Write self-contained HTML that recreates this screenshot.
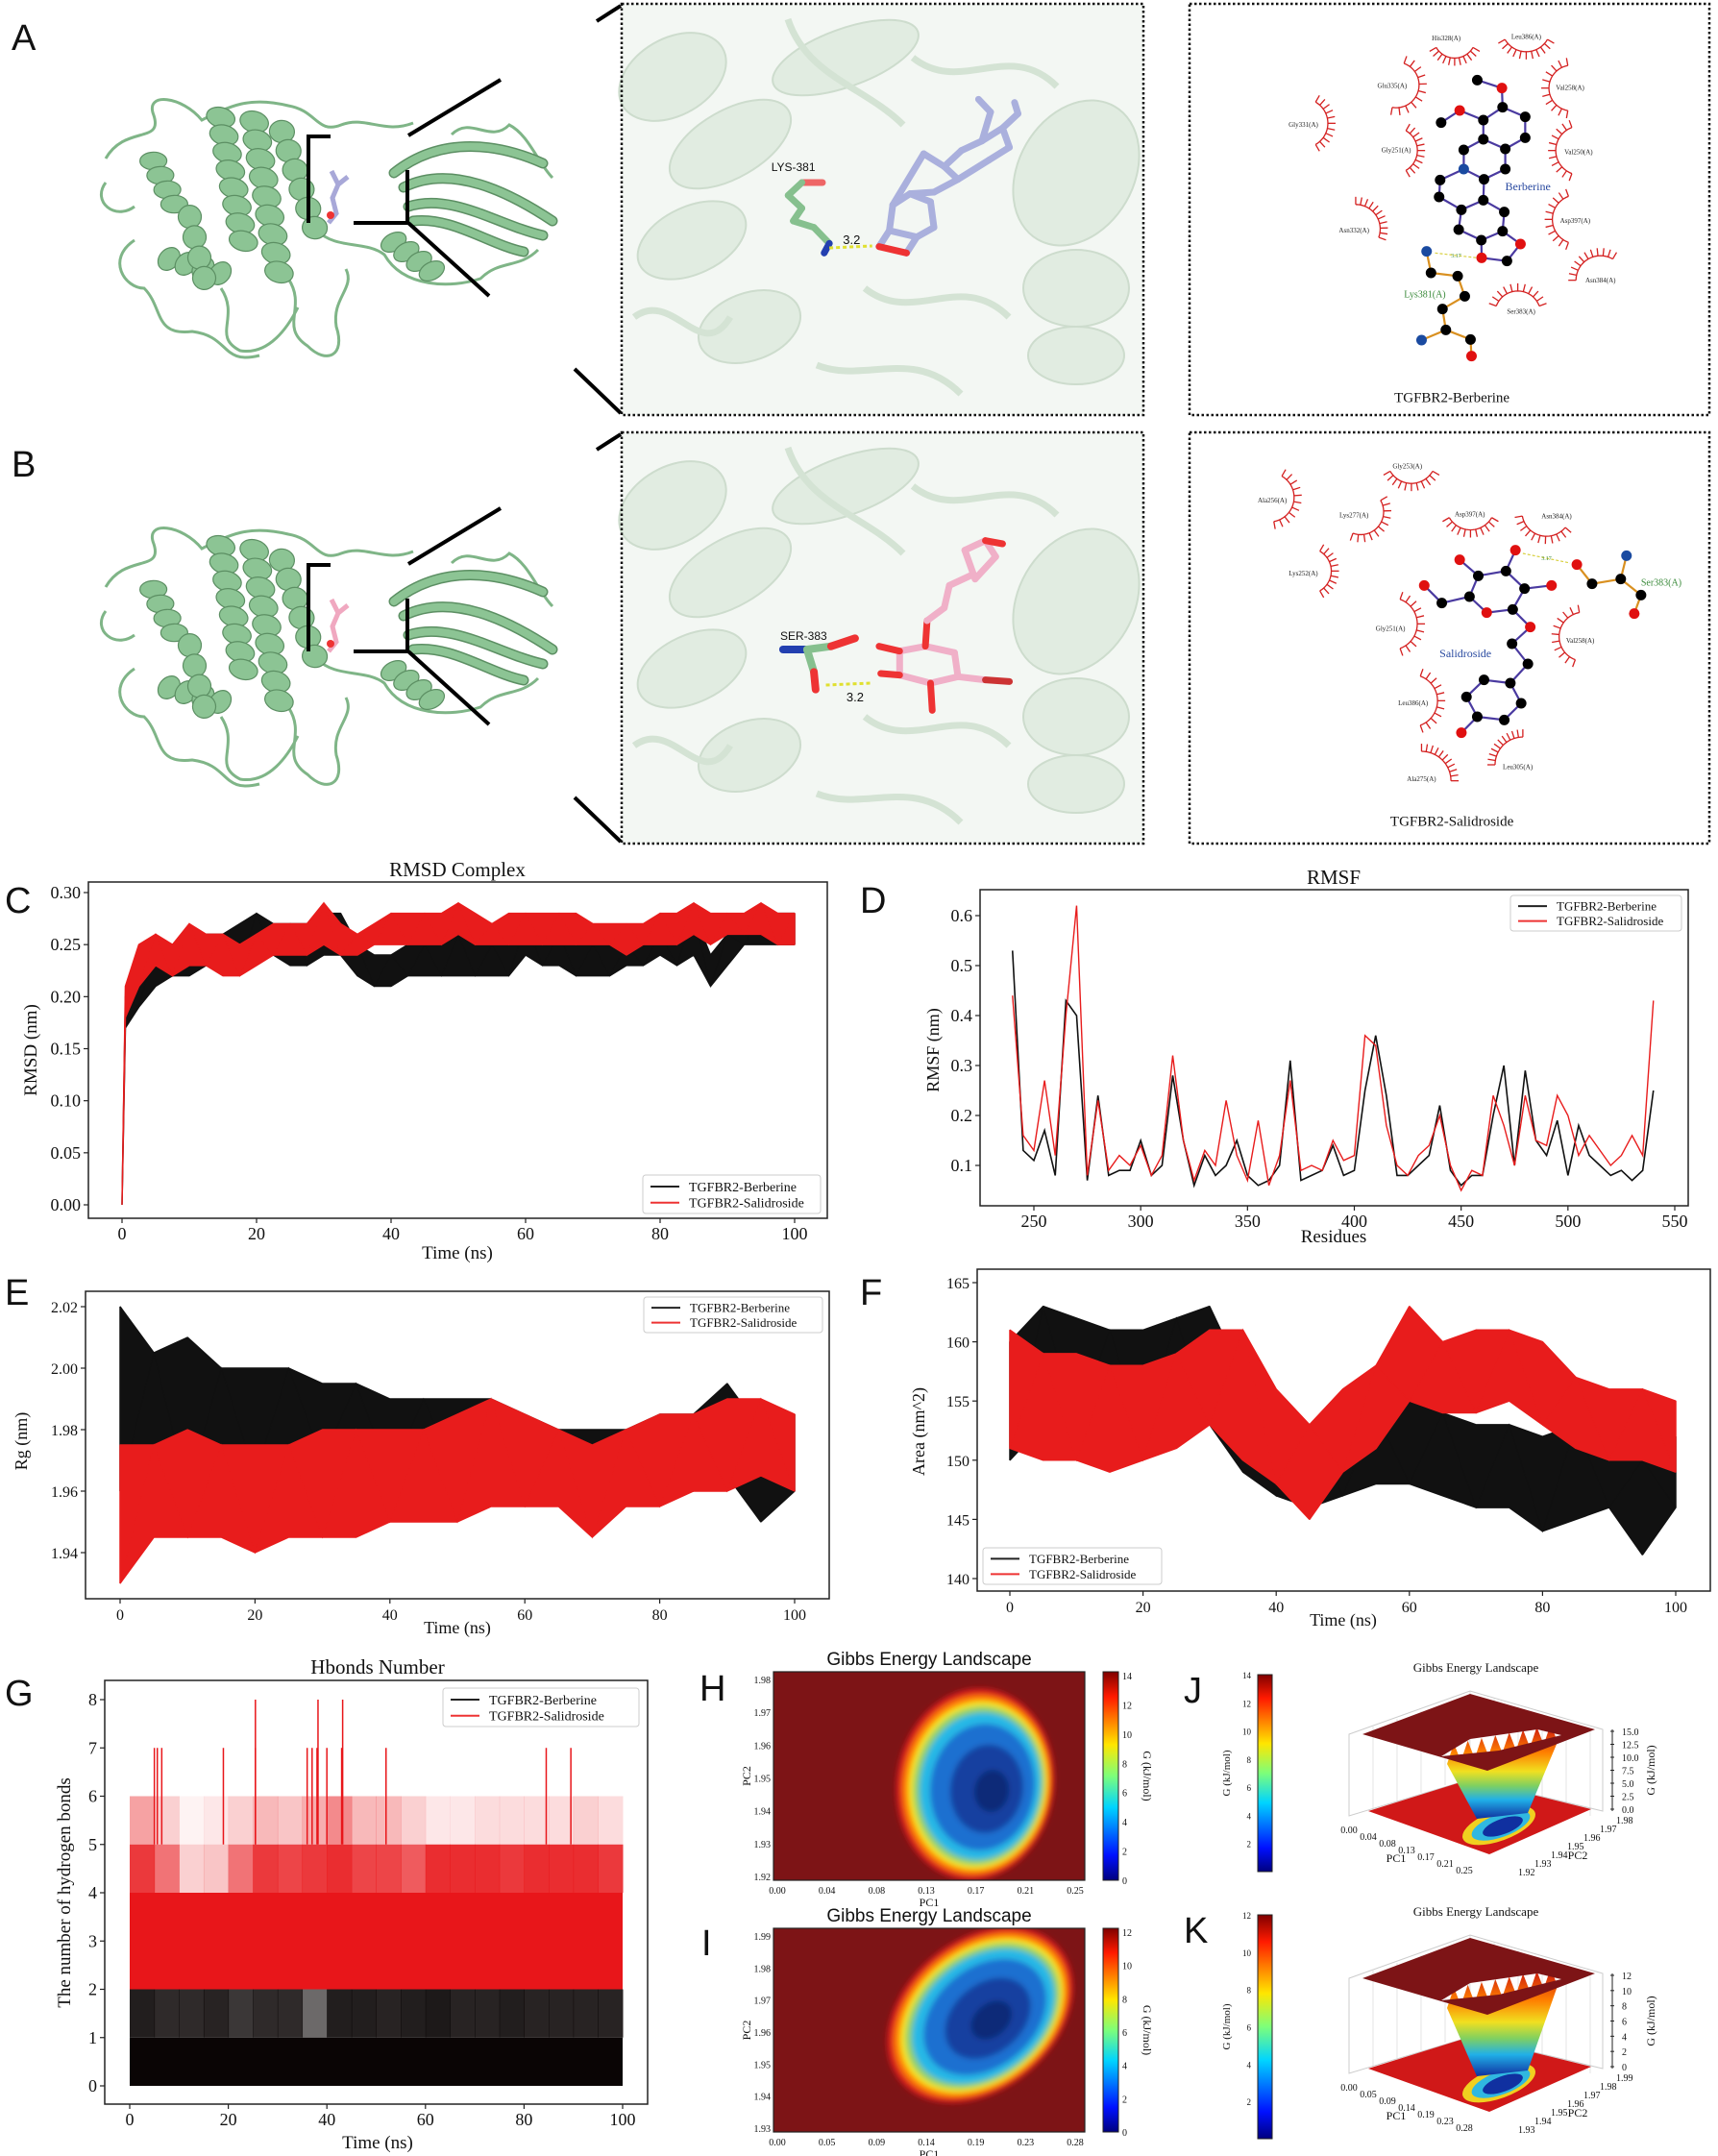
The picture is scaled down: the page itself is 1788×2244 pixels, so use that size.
<!DOCTYPE html>
<html><head><meta charset="utf-8">
<style>
html,body{margin:0;padding:0;background:#fff;}
svg{display:block;}
text{font-family:"Liberation Serif",serif;}
.sans{font-family:"Liberation Sans",sans-serif;}
</style></head>
<body>
<svg id="fig" xmlns="http://www.w3.org/2000/svg" width="1788" height="2244" viewBox="0 0 1788 2244">
<defs>
<linearGradient id="jet" x1="0" y1="1" x2="0" y2="0">
<stop offset="0" stop-color="#00007f"/><stop offset="0.12" stop-color="#0010ff"/><stop offset="0.35" stop-color="#00d4ff"/><stop offset="0.5" stop-color="#7dff7a"/><stop offset="0.65" stop-color="#ffe600"/><stop offset="0.88" stop-color="#ff1a00"/><stop offset="1" stop-color="#7f0000"/></linearGradient>
<linearGradient id="funnel" x1="0" y1="0" x2="0" y2="1">
<stop offset="0" stop-color="#c81010"/><stop offset="0.3" stop-color="#ff8000"/><stop offset="0.5" stop-color="#f0e020"/><stop offset="0.65" stop-color="#80d060"/><stop offset="0.8" stop-color="#20b0e8"/><stop offset="1" stop-color="#1030a0"/></linearGradient>
<filter id="blur"><feGaussianBlur stdDeviation="3"/></filter>
<clipPath id="clipH"><rect x="805" y="1740" width="324" height="217"/></clipPath>
<clipPath id="clipI"><rect x="805" y="2007" width="324" height="212"/></clipPath>
</defs>
</svg>
<script>
// ---------------- DATA ----------------
const cTime = [0,0.5,2.5,5,7.5,10,12.5,15,17.5,20,22.5,25,27.5,30,32.5,35,37.5,40,42.5,45,47.5,50,52.5,55,57.5,60,62.5,65,67.5,70,72.5,75,77.5,80,82.5,85,87.5,90,92.5,95,97.5,100];
const cBerLo = [0,0.17,0.19,0.21,0.22,0.22,0.23,0.23,0.23,0.24,0.24,0.23,0.23,0.24,0.24,0.22,0.21,0.21,0.22,0.22,0.22,0.22,0.22,0.22,0.22,0.24,0.23,0.23,0.22,0.22,0.22,0.23,0.23,0.24,0.23,0.24,0.21,0.23,0.25,0.25,0.25,0.25];
const cBerHi = [0,0.20,0.23,0.25,0.25,0.26,0.26,0.26,0.27,0.28,0.27,0.27,0.27,0.28,0.28,0.25,0.24,0.24,0.25,0.25,0.26,0.26,0.25,0.25,0.25,0.27,0.26,0.26,0.26,0.25,0.25,0.25,0.26,0.26,0.26,0.28,0.24,0.26,0.27,0.28,0.28,0.28];
const cSalLo = [0,0.18,0.21,0.23,0.22,0.23,0.23,0.22,0.22,0.23,0.24,0.24,0.24,0.25,0.24,0.24,0.25,0.25,0.25,0.25,0.25,0.26,0.25,0.25,0.25,0.25,0.25,0.25,0.25,0.25,0.25,0.24,0.25,0.25,0.25,0.26,0.25,0.26,0.26,0.26,0.25,0.25];
const cSalHi = [0,0.21,0.25,0.26,0.25,0.27,0.26,0.26,0.25,0.26,0.27,0.27,0.27,0.29,0.27,0.26,0.27,0.28,0.28,0.28,0.28,0.29,0.28,0.27,0.28,0.28,0.28,0.28,0.28,0.27,0.27,0.27,0.27,0.28,0.28,0.29,0.28,0.28,0.28,0.29,0.28,0.28];
const cTicksY = ["0.00","0.05","0.10","0.15","0.20","0.25","0.30"];
const timeTicks = [0,20,40,60,80,100];

const dRes = [240,245,250,255,260,265,270,275,280,285,290,295,300,305,310,315,320,325,330,335,340,345,350,355,360,365,370,375,380,385,390,395,400,405,410,415,420,425,430,435,440,445,450,455,460,465,470,475,480,485,490,495,500,505,510,515,520,525,530,535,540];
const dBer = [.53,.13,.11,.17,.08,.43,.40,.07,.24,.08,.09,.09,.15,.08,.10,.28,.15,.06,.12,.08,.10,.15,.08,.06,.07,.10,.31,.07,.08,.09,.14,.08,.09,.25,.36,.24,.08,.08,.10,.12,.22,.09,.06,.08,.08,.20,.30,.10,.29,.15,.12,.19,.08,.18,.12,.10,.08,.09,.07,.09,.25];
const dSal = [.44,.16,.13,.27,.12,.40,.62,.08,.23,.09,.12,.10,.14,.08,.12,.32,.15,.07,.13,.10,.23,.12,.07,.19,.06,.12,.27,.09,.10,.09,.15,.11,.12,.36,.34,.18,.10,.08,.12,.14,.20,.10,.05,.09,.08,.24,.18,.10,.24,.15,.14,.24,.20,.12,.16,.13,.10,.12,.16,.12,.43];
const dTicksX = [250,300,350,400,450,500,550];
const dTicksY = [0.1,0.2,0.3,0.4,0.5,0.6];

const efTime = [0,5,10,15,20,25,30,35,40,45,50,55,60,65,70,75,80,85,90,95,100];
const eBerLo = [1.960,1.970,1.960,1.965,1.965,1.970,1.970,1.965,1.965,1.965,1.965,1.960,1.965,1.960,1.955,1.955,1.960,1.960,1.965,1.950,1.960];
const eBerHi = [2.020,2.005,2.010,2.000,2.000,2.000,1.995,1.995,1.990,1.990,1.990,1.990,1.985,1.980,1.980,1.980,1.985,1.985,1.995,1.980,1.985];
const eSalLo = [1.930,1.945,1.945,1.945,1.940,1.945,1.945,1.945,1.950,1.950,1.950,1.955,1.955,1.955,1.945,1.955,1.955,1.960,1.960,1.965,1.960];
const eSalHi = [1.975,1.975,1.980,1.975,1.975,1.975,1.980,1.980,1.980,1.980,1.985,1.990,1.985,1.980,1.975,1.980,1.985,1.985,1.990,1.990,1.985];
const eTicksY = ["1.94","1.96","1.98","2.00","2.02"];
const fBerLo = [150,153,153,152,152,153,153,149,147,146,147,148,148,147,146,146,144,145,146,142,146];
const fBerHi = [160,163,162,161,161,162,163,157,155,153,154,154,155,154,153,153,152,153,153,150,152];
const fSalLo = [151,150,150,149,150,151,153,150,148,145,149,151,155,154,154,155,153,151,150,150,149];
const fSalHi = [161,159,159,158,158,159,161,161,156,153,156,158,163,160,161,161,160,157,156,156,155];
const fTicksY = [140,145,150,155,160,165];

const gBins = [0,5,10,15,20,25,30,35,40,45,50,55,60,65,70,75,80,85,90,95];
const gRed45 = [0.85,0.6,0.2,0.25,0.6,0.85,0.8,0.85,0.9,0.8,0.8,0.7,0.9,0.9,0.9,0.85,0.9,0.9,0.9,0.85];
const gRed56 = [0.4,0.2,0.05,0.1,0.2,0.3,0.25,0.35,0.5,0.3,0.3,0.2,0.1,0.1,0.15,0.15,0.15,0.15,0.2,0.15];
const gBlk12 = [0.9,0.85,0.85,0.88,0.8,0.85,0.85,0.6,0.9,0.9,0.88,0.9,0.92,0.88,0.88,0.9,0.88,0.88,0.88,0.88];
const gSpikeT = [5,5.6,6.5,19,25.5,36,37,38,40,43,52,84.5,89.5,25.5,38.2,43.2];
const gSpikeV = [7,7,7,7,7,7,7,7,7,7,7,7,7,8,8,8];
const gTicksY = [0,1,2,3,4,5,6,7,8];

const hTicksX = ["0.00","0.04","0.08","0.13","0.17","0.21","0.25"];
const hTicksY = ["1.92","1.93","1.94","1.95","1.96","1.97","1.98"];
const iTicksX = ["0.00","0.05","0.09","0.14","0.19","0.23","0.28"];
const iTicksY = ["1.93","1.94","1.95","1.96","1.97","1.98","1.99"];
const levelColors = ["#d81e1e","#ff7a00","#f5e51a","#8fd06a","#27b8e6","#1f6fd0","#1440a0","#0c2a78"];
const levelScale = [1,0.94,0.88,0.83,0.77,0.66,0.46,0.22];

// ---------------- HELPERS ----------------
const NS="http://www.w3.org/2000/svg";
const svg=document.getElementById('fig');
function mk(tag,attrs,parent){const e=document.createElementNS(NS,tag);for(const k in attrs)e.setAttribute(k,attrs[k]);(parent||svg).appendChild(e);return e;}
function tx(x,y,s,size,attrs,parent){const a=Object.assign({x:x,y:y,'font-size':size,fill:'#111'},attrs||{});const t=mk('text',a,parent);t.textContent=s;return t;}
function lin(d0,d1,r0,r1){return v=>r0+(v-d0)*(r1-r0)/(d1-d0);}
function grp(name,parent){const g=mk('g',{},parent);return g;}

function frame(g,x0,y0,x1,y1){
  const r=mk('rect',{x:x0,y:y0,width:x1-x0,height:y1-y0,fill:'none',stroke:'#222','stroke-width':1.5},g);
  
}
function xTicks(g,vals,sx,yb,fs,lbls){
  vals.forEach((v,i)=>{const x=sx(v);mk('line',{x1:x,y1:yb,x2:x,y2:yb+5,stroke:'#222','stroke-width':1.2},g);
    const t=tx(x,yb+22,lbls?lbls[i]:String(v),fs,{'text-anchor':'middle'},g);});
}
function yTicks(g,vals,sy,xl,fs,lbls){
  vals.forEach((v,i)=>{const y=sy(v);mk('line',{x1:xl-5,y1:y,x2:xl,y2:y,stroke:'#222','stroke-width':1.2},g);
    const t=tx(xl-8,y+6,lbls?lbls[i]:String(v),fs,{'text-anchor':'end'},g);});
}
function band(g,t,lo,hi,sx,sy,color,name){
  let d='M'+t.map((v,i)=>sx(v)+','+sy(hi[i])).join('L');
  for(let i=t.length-1;i>=0;i--)d+='L'+sx(t[i])+','+sy(lo[i]);
  const p=mk('path',{d:d+'Z',fill:color,stroke:color,'stroke-width':1.5,'stroke-linejoin':'bevel'},g);
  
  let pd='';t.forEach((v,i)=>{const y=i%2?sy(hi[i]):sy(lo[i]);pd+=(i?'L':'M')+sx(v)+','+y;});
  mk('path',{d:pd,fill:'none',stroke:color,'stroke-width':1},g);
}
function legend(g,x0,y0,x1,y1,fs){
  const r=mk('rect',{x:x0,y:y0,width:x1-x0,height:y1-y0,fill:'#fff',stroke:'#ccc','stroke-width':1,rx:3},g);
  
  const h=(y1-y0);const ya=y0+h*0.3,yb=y0+h*0.72;
  mk('line',{x1:x0+8,y1:ya,x2:x0+38,y2:ya,stroke:'#222','stroke-width':2},g);
  mk('line',{x1:x0+8,y1:yb,x2:x0+38,y2:yb,stroke:'#e33','stroke-width':2},g);
  const a=tx(x0+48,ya+fs*0.35,'TGFBR2-Berberine',fs,{},g);
  const b=tx(x0+48,yb+fs*0.35,'TGFBR2-Salidroside',fs,{},g);
}
function panelLabel(x,y,s){const t=tx(x,y,s,38,{class:'sans'});}

// ---------------- PANEL C ----------------
(function(){
  const g=grp('panel-c-rmsd');
  const sx=lin(0,100,127,827), sy=lin(0,0.30,1254,929);
  band(g,cTime,cBerLo,cBerHi,sx,sy,'#111','rmsd-berberine-line');
  band(g,cTime,cSalLo,cSalHi,sx,sy,'#e81c1c','rmsd-salidroside-line');
  frame(g,92,918,861,1268);
  xTicks(g,timeTicks,sx,1268,18);
  yTicks(g,cTicksY.map(Number),sy,92,18,cTicksY);
  legend(g,669,1223,854,1263,14);
  tx(476,912,'RMSD Complex',21,{'text-anchor':'middle'},g);
  tx(476,1310,'Time (ns)',19,{'text-anchor':'middle'},g);
  tx(0,0,'RMSD (nm)',19,{'text-anchor':'middle',transform:'translate(38,1093) rotate(-90)'},g);
})();
panelLabel(5,950,'C');

// ---------------- PANEL D ----------------
(function(){
  const g=grp('panel-d-rmsf');
  const sx=lin(250,550,1076,1743), sy=lin(0.1,0.6,1213,953);
  const line=(vals,color,name,w)=>{const p=mk('path',{d:'M'+dRes.map((r,i)=>sx(r)+','+sy(vals[i])).join('L'),fill:'none',stroke:color,'stroke-width':w},g);};
  line(dBer,'#111','rmsf-berberine-line',1.6);
  line(dSal,'#e81c1c','rmsf-salidroside-line',1.4);
  frame(g,1020,926,1757,1255);
  xTicks(g,dTicksX,sx,1255,18);
  yTicks(g,dTicksY,sy,1020,18,dTicksY.map(v=>v.toFixed(1)));
  legend(g,1572,932,1750,969,13);
  tx(1388,920,'RMSF',21,{'text-anchor':'middle'},g);
  tx(1388,1293,'Residues',19,{'text-anchor':'middle'},g);
  tx(0,0,'RMSF (nm)',18,{'text-anchor':'middle',transform:'translate(977,1093) rotate(-90)'},g);
})();
panelLabel(895,950,'D');

// ---------------- PANEL E ----------------
(function(){
  const g=grp('panel-e-rg');
  const sx=lin(0,100,125,827), sy=lin(1.94,2.02,1616,1360);
  band(g,efTime,eBerLo,eBerHi,sx,sy,'#111','rg-berberine-line');
  band(g,efTime,eSalLo,eSalHi,sx,sy,'#e81c1c','rg-salidroside-line');
  frame(g,89,1344,863,1664);
  xTicks(g,timeTicks,sx,1664,16);
  yTicks(g,eTicksY.map(Number),sy,89,16,eTicksY);
  legend(g,670,1350,856,1387,13);
  tx(476,1700,'Time (ns)',18,{'text-anchor':'middle'},g);
  tx(0,0,'Rg (nm)',18,{'text-anchor':'middle',transform:'translate(28,1500) rotate(-90)'},g);
})();
panelLabel(5,1358,'E');

// ---------------- PANEL F ----------------
(function(){
  const g=grp('panel-f-sasa');
  const sx=lin(0,100,1051,1744), sy=lin(140,165,1643,1335);
  band(g,efTime,fBerLo,fBerHi,sx,sy,'#111','area-berberine-line');
  band(g,efTime,fSalLo,fSalHi,sx,sy,'#e81c1c','area-salidroside-line');
  frame(g,1017,1321,1780,1656);
  xTicks(g,timeTicks,sx,1656,16);
  yTicks(g,fTicksY,sy,1017,16);
  legend(g,1023,1611,1209,1649,13);
  tx(1398,1692,'Time (ns)',18,{'text-anchor':'middle'},g);
  tx(0,0,'Area (nm^2)',18,{'text-anchor':'middle',transform:'translate(962,1490) rotate(-90)'},g);
})();
panelLabel(895,1358,'F');

// ---------------- PANEL G ----------------
(function(){
  const g=grp('panel-g-hbonds');
  const sx=lin(0,100,135,648), sy=lin(0,8,2171,1769);
  const binW=sx(5)-sx(0);
  const b0=mk('rect',{x:sx(0),y:sy(1),width:sx(100)-sx(0),height:sy(0)-sy(1),fill:'#0a0505'},g);
  
  const r0=mk('rect',{x:sx(0),y:sy(4),width:sx(100)-sx(0),height:sy(2)-sy(4),fill:'#e8161a'},g);
  
  gBins.forEach((t,i)=>{
    const a=mk('rect',{x:sx(t),y:sy(2),width:binW+0.5,height:sy(1)-sy(2),fill:'#0a0505','fill-opacity':gBlk12[i]},g);
    
    const b=mk('rect',{x:sx(t),y:sy(5),width:binW+0.5,height:sy(4)-sy(5),fill:'#e8161a','fill-opacity':gRed45[i]},g);
    
    const c=mk('rect',{x:sx(t),y:sy(6),width:binW+0.5,height:sy(5)-sy(6),fill:'#e8161a','fill-opacity':gRed56[i]},g);
    
  });
  gSpikeT.forEach((t,i)=>{const l=mk('line',{x1:sx(t),y1:sy(gSpikeV[i]),x2:sx(t),y2:sy(5),stroke:'#e8161a','stroke-width':1.5},g);
    });
  frame(g,109,1749,674,2190);
  xTicks(g,timeTicks,sx,2190,18);
  yTicks(g,gTicksY,sy,109,18);
  legend(g,461,1757,665,1797,14);
  tx(393,1742,'Hbonds Number',21,{'text-anchor':'middle'},g);
  tx(393,2236,'Time (ns)',19,{'text-anchor':'middle'},g);
  tx(0,0,'The number of hydrogen bonds',19,{'text-anchor':'middle',transform:'translate(73,1970) rotate(-90)'},g);
})();
panelLabel(5,1775,'G');

// ---------------- HEATMAPS H, I ----------------
function heatmap(name,x0,y0,x1,y1,clip,cx,cy,rx,ry,rot,corex,corey,ticksX,ticksY,cbMax,title,cbY0,cbY1){
  const g=grp(name);
  mk('rect',{x:x0,y:y0,width:x1-x0,height:y1-y0,fill:'#7d1416'},g);
  const cg=mk('g',{'clip-path':'url(#'+clip+')'},g);
  const bg=mk('g',{filter:'url(#blur)'},cg);
  levelColors.forEach((c,i)=>{const s=levelScale[i];const f=1-s;
    const e=mk('ellipse',{cx:cx+(corex-cx)*f,cy:cy+(corey-cy)*f,rx:rx*s,ry:ry*s,fill:c,transform:`rotate(${rot} ${cx+(corex-cx)*f} ${cy+(corey-cy)*f})`},bg);
    });
  mk('rect',{x:x0,y:y0,width:x1-x0,height:y1-y0,fill:'none',stroke:'#222','stroke-width':1.2},g);
  const n=ticksX.length;
  ticksX.forEach((l,i)=>{const x=x0+4+i*(x1-x0-14)/(n-1);tx(x,y1+14,l,10,{'text-anchor':'middle'},g);});
  ticksY.forEach((l,i)=>{const y=y1-4-i*(y1-y0-12)/(n-1);tx(x0-3,y+4,l,10,{'text-anchor':'end'},g);});
  tx((x0+x1)/2,y1+27,'PC1',12,{'text-anchor':'middle'},g);
  tx(0,0,'PC2',12,{'text-anchor':'middle',transform:`translate(${x0-24},${(y0+y1)/2}) rotate(-90)`},g);
  const cb=mk('rect',{x:1148,y:cbY0,width:16,height:cbY1-cbY0,fill:'url(#jet)',stroke:'#222','stroke-width':1},g);
  
  for(let v=0;v<=cbMax;v+=2){const y=cbY1-v/cbMax*(cbY1-cbY0-4);tx(1168,y+4,String(v),10,{},g);}
  tx(0,0,'G (kJ/mol)',12,{'text-anchor':'middle',transform:`translate(1190,${(cbY0+cbY1)/2}) rotate(90)`},g);
  const t=tx((x0+x1)/2,y0-7,title,19,{'text-anchor':'middle',class:'sans','font-family':'"Liberation Sans Narrow","Liberation Sans",sans-serif'},g);
  
}
heatmap('panel-h-energy-landscape',805,1740,1129,1957,'clipH',1015,1857,82,100,8,1037,1866,hTicksX,hTicksY,14,'Gibbs Energy Landscape',1740,1957);
heatmap('panel-i-energy-landscape',805,2007,1129,2219,'clipI',1020,2097,108,78,-40,1035,2104,iTicksX,iTicksY,12,'Gibbs Energy Landscape',2007,2219);
panelLabel(728,1770,'H');
panelLabel(730,2035,'I');

// ---------------- 3D J, K ----------------
function surf3d(name,dy,stretch,cbY0,cbY1,cbMax,zlabels,pc1,pc2){
  const g=grp(name);
  const cb=mk('rect',{x:1309,y:cbY0,width:15,height:cbY1-cbY0,fill:'url(#jet)',stroke:'#222','stroke-width':1},g);
  
  for(let v=2;v<=cbMax;v+=2){const y=cbY1-v/cbMax*(cbY1-cbY0);tx(1302,y+4,String(v),9,{'text-anchor':'end'},g);}
  tx(0,0,'G (kJ/mol)',11,{'text-anchor':'middle',transform:`translate(1280,${(cbY0+cbY1)/2}) rotate(-90)`},g);
  const Y=v=>v+dy, B=v=>v+dy+stretch;
  const wg=mk('g',{stroke:'#ddd','stroke-width':0.8,fill:'none'},g);
  for(let i=0;i<6;i++){mk('line',{x1:1404+i*25,y1:Y(1805)-i*8,x2:1404+i*25,y2:B(1890)-i*8},wg);
    mk('line',{x1:1530+i*25,y1:Y(1760)+i*8,x2:1530+i*25,y2:B(1850)+i*8},wg);}
  mk('path',{d:`M1404,${Y(1805)}L1530,${Y(1760)}L1668,${Y(1800)}L1668,${B(1885)}L1530,${B(1852)}L1404,${B(1890)}Z`,fill:'none',stroke:'#ccc'},g);
  const bp=mk('polygon',{points:`1424,${B(1885)} 1530,${B(1852)} 1656,${B(1883)} 1550,${B(1930)}`,fill:'#d01818'},g);
  
  mk('ellipse',{cx:1560,cy:B(1900),rx:40,ry:16,fill:'#f0d020',transform:`rotate(-20 1560 ${B(1900)})`},g);
  mk('ellipse',{cx:1562,cy:B(1900),rx:32,ry:12,fill:'#30b8e0',transform:`rotate(-20 1562 ${B(1900)})`},g);
  mk('ellipse',{cx:1564,cy:B(1901),rx:22,ry:8,fill:'#1030a0',transform:`rotate(-20 1564 ${B(1901)})`},g);
  let zig='';for(let i=0;i<=16;i++){const x=1506+i*(1621-1506)/16;const y=Y(1830)-i*(23/16)+(i%2?-14:6);zig+=(i?'L':'M')+x+','+y;}
  const fu=mk('path',{d:`${zig}L1590,${B(1887)}L1537,${B(1893)}Z`,fill:'url(#funnel)'},g);
  
  const tp=mk('path',{d:`M1418,${Y(1805)}L1530,${Y(1763)}L1660,${Y(1800)}L1548,${Y(1843)}Z M1500,${Y(1828)}L1560,${Y(1822)}L1625,${Y(1806)}L1600,${Y(1800)}L1530,${Y(1810)}Z`,fill:'#7d1416','fill-rule':'evenodd'},g);
  
  zlabels.forEach((l,i)=>{const y=B(1883)-i*((B(1883)-Y(1802))/(zlabels.length-1));tx(1688,y+4,l,10,{},g);mk('line',{x1:1676,y1:y,x2:1680,y2:y,stroke:'#222'},g);});
  mk('line',{x1:1678,y1:Y(1800),x2:1678,y2:B(1885),stroke:'#222'},g);
  tx(0,0,'G (kJ/mol)',12,{'text-anchor':'middle',transform:`translate(1722,${(Y(1800)+B(1885))/2}) rotate(-90)`},g);
  pc1.forEach((l,i)=>{tx(1404+i*20,B(1908)+i*7,l,10,{'text-anchor':'middle'},g);});
  pc2.forEach((l,i)=>{tx(1580+i*17,B(1952)-i*9,l,10,{},g);});
  tx(1453,B(1938),'PC1',12,{'text-anchor':'middle'},g);
  tx(1642,B(1935),'PC2',12,{'text-anchor':'middle'},g);
  const t=tx(1536,Y(1740),'Gibbs Energy Landscape',13,{'text-anchor':'middle','font-family':'"Liberation Sans Narrow","Liberation Sans",sans-serif'},g);
  
}
surf3d('panel-j-3d-landscape',0,0,1743,1948,14,["0.0","2.5","5.0","7.5","10.0","12.5","15.0"],["0.00","0.04","0.08","0.13","0.17","0.21","0.25"],["1.92","1.93","1.94","1.95","1.96","1.97","1.98"]);
surf3d('panel-k-3d-landscape',254,14,1993,2226,12,["0","2","4","6","8","10","12"],["0.00","0.05","0.09","0.14","0.19","0.23","0.28"],["1.93","1.94","1.95","1.96","1.97","1.98","1.99"]);
panelLabel(1232,1772,'J');
panelLabel(1232,2022,'K');

// ---------------- PANELS A / B ----------------
function helix(g,x1,y1,x2,y2,turns,w){
  const dx=x2-x1,dy=y2-y1,L=Math.hypot(dx,dy);
  for(let i=0;i<turns;i++){const t=(i+0.5)/turns;const cx=x1+dx*t,cy=y1+dy*t;
    mk('ellipse',{cx:cx,cy:cy,rx:w,ry:L/turns*0.55,fill:'#8cc494',stroke:'#5c8f63','stroke-width':1.2,transform:`rotate(${Math.atan2(dy,dx)*180/Math.PI-90+25} ${cx} ${cy})`},g);}
}
function protein(oy,ligColor){
  const g=grp('protein-overview');
  const loops=['M110,165 C130,130 170,150 160,120 C150,95 190,100 210,125 C240,110 260,100 300,110 C330,115 330,140 355,130 C380,120 400,140 430,128',
    'M140,250 C110,270 130,300 150,300 C170,320 160,350 200,345 C240,350 230,380 270,370',
    'M300,290 C320,320 290,340 320,360 C340,380 360,370 350,340 C345,310 370,300 360,280',
    'M230,300 C250,330 220,350 250,365 C280,370 300,340 310,320',
    'M110,190 C95,210 120,230 140,215',
    'M330,240 C350,260 380,250 400,265 C420,300 470,300 500,290 C520,270 540,280 560,260',
    'M470,140 C490,120 510,150 530,130 C550,140 560,170 575,185'];
  loops.forEach(d=>mk('path',{d:d,fill:'none',stroke:'#7fb587','stroke-width':3,transform:`translate(0,${oy})`},g));
  const hg=mk('g',{transform:`translate(0,${oy})`},g);
  helix(hg,156,160,185,220,4,14);
  helix(hg,228,113,255,260,8,15);
  helix(hg,263,117,292,293,9,15);
  helix(hg,290,127,331,247,6,13);
  helix(hg,167,267,238,287,4,13);
  helix(hg,403,247,456,287,4,14);
  helix(hg,195,215,215,300,4,12);
  ['M410,180 C460,140 520,150 565,170','M420,195 C470,170 530,200 575,230','M425,215 C470,200 520,235 565,245','M430,230 C470,225 510,255 545,262'].forEach(d=>{
    mk('path',{d:d,fill:'none',stroke:'#5c8f63','stroke-width':11,'stroke-linecap':'round'},hg);
    mk('path',{d:d,fill:'none',stroke:'#8cc494','stroke-width':8,'stroke-linecap':'round'},hg);});
  const lg=mk('g',{transform:`translate(0,${oy})`},g);
  mk('path',{d:'M345,178 L352,192 L346,206 L350,222 L342,232 M352,192 L362,184',fill:'none',stroke:ligColor,'stroke-width':5},lg);
  mk('circle',{cx:344,cy:224,r:4,fill:'#e33'},lg);
  const bk=mk('path',{d:'M344,142 L321,142 L321,232 M424,177 L424,232 L368,232 M425,141 L521,83 M425,232 L509,308',fill:'none',stroke:'#000','stroke-width':4},lg);
  
  mk('path',{d:'M621,22 L646,6 M598,384 L646,430',fill:'none',stroke:'#000','stroke-width':4},lg);
}
protein(0,'#a8a8d8');
protein(446,'#f0a8c0');
panelLabel(12,52,'A');
panelLabel(12,496,'B');

function closeup(oy,name){
  const g=grp(name);
  mk('rect',{x:647,y:oy+4,width:543,height:428,fill:'#f3f7f3'},g);
  const sg=mk('g',{fill:'#e1ece1',stroke:'#cddccd','stroke-width':2},g);
  [[700,oy+80,60,40,-30],[760,oy+150,70,35,-30],[720,oy+250,60,35,-25],[780,oy+340,55,35,-20],[880,oy+60,80,30,-20],[1120,oy+300,55,40,0],[1120,oy+370,50,30,0],[1120,oy+180,80,60,-60]].forEach(a=>
    mk('ellipse',{cx:a[0],cy:a[1],rx:a[2],ry:a[3],transform:`rotate(${a[4]} ${a[0]} ${a[1]})`},sg));
  const lp=mk('g',{fill:'none',stroke:'#d4e3d4','stroke-width':7},g);
  ['M660,330 C700,300 730,380 760,330','M900,300 C950,340 1000,280 1050,330','M850,380 C900,400 950,360 1000,410','M950,60 C1000,100 1050,40 1100,90','M820,20 C840,80 900,90 940,130'].forEach(d=>mk('path',{d:d.replace(/C(\d+),(\d+) (\d+),(\d+) (\d+),(\d+)/,(m,a,b,c,d2,e,f)=>`C${a},${+b+oy} ${c},${+d2+oy} ${e},${+f+oy}`).replace(/M(\d+),(\d+)/,(m,a,b)=>`M${a},${+b+oy}`)},lp));
  const r=mk('rect',{x:647,y:oy+4,width:543,height:428,fill:'none',stroke:'#111','stroke-width':2.5,'stroke-dasharray':'2.5 2.5'},g);
  
  return g;
}
function sticks(g,pts,segs,color,w,ox,oy){
  const P=pts.map(p=>[ox+p[0]*0.357,oy+p[1]/3]);
  segs.forEach(s=>mk('line',{x1:P[s[0]][0],y1:P[s[0]][1],x2:P[s[1]][0],y2:P[s[1]][1],stroke:s[2]||color,'stroke-width':w,'stroke-linecap':'round'},g));
}
(function(){
  const g=closeup(0,'closeup-berberine');
  const pts=[[770,770],[800,720],[810,640],[860,605],[920,630],[930,710],[880,740],[850,790],[900,480],[960,520],[1010,470],[1000,560],[930,600],[1070,440],[1130,400],[1150,460],[1090,500],[1095,350],[1060,310],[1175,355],[1165,320]];
  sticks(g,pts,[[0,1],[1,2],[2,3],[3,4],[4,5],[5,6],[6,1],[6,7],[7,0,'#e33'],[2,8],[8,9],[9,10],[9,11],[11,12],[12,3],[10,13],[13,14],[14,15],[15,16],[16,11],[13,17],[17,18],[14,19],[19,20]],'#aab0dd',7,640,0);
  sticks(g,[[605,570],[545,570],[505,610],[545,650],[520,690],[580,710],[625,760],[610,790]],[[0,1,'#e66'],[1,2],[2,3],[3,4],[4,5],[5,6],[6,7,'#2340b0']],'#86c08e',7,640,0);
  mk('line',{x1:640+625*0.357,y1:258,x2:640+750*0.357,y2:256,stroke:'#e0e030','stroke-width':3,'stroke-dasharray':'4 3'},g);
  tx(640+520*0.357,178,'LYS-381',12,{'text-anchor':'middle',class:'sans'},g);
  tx(640+690*0.357,254,'3.2',13,{'text-anchor':'middle',class:'sans'},g);
})();
(function(){
  const oy=446;
  const g=closeup(oy,'closeup-salidroside');
  const pts=[[830,695],[905,680],[990,700],[1000,775],[920,795],[830,770],[770,680],[775,765],[925,880],[1080,785],[1150,790],[910,600],[960,560],[975,490],[1045,455],[1020,380],[1080,350],[1110,400],[1050,470],[1130,360]];
  sticks(g,pts,[[0,1],[1,2],[2,3],[3,4],[4,5],[5,0],[0,6,'#e33'],[5,7,'#e33'],[4,8,'#e33'],[3,9],[9,10,'#c33'],[1,11,'#e33'],[11,12],[12,13],[13,14],[14,15],[15,16],[16,17],[17,18],[18,14],[16,19,'#e33']],'#f0b0c8',7,640,oy);
  sticks(g,[[490,690],[560,690],[630,680],[700,655],[580,760],[585,815]],[[0,1,'#2340b0'],[1,2],[2,3,'#e33'],[1,4],[4,5,'#e33']],'#86c08e',8,640,oy);
  mk('line',{x1:640+615*0.357,y1:oy+267,x2:640+745*0.357,y2:oy+265,stroke:'#e0e030','stroke-width':3,'stroke-dasharray':'4 3'},g);
  tx(640+550*0.357,oy+220,'SER-383',12,{'text-anchor':'middle',class:'sans'},g);
  tx(640+700*0.357,oy+284,'3.2',13,{'text-anchor':'middle',class:'sans'},g);
})();

// ---------------- LIGPLOT ----------------
function ligplot(oy,name,atoms,bonds,chain,chainBonds,lashes,labels,title,hb){
  const g=grp(name);
  const X=z=>1237+z*0.3514, Yf=z=>oy+z/3;
  mk('rect',{x:1238,y:oy+4,width:541,height:428,fill:'#fff',stroke:'#111','stroke-width':2.5,'stroke-dasharray':'2.5 2.5'},g);
  lashes.forEach(l=>{const cx=X(l[0]),cy=Yf(l[1]),r=l[2]*0.34;const a0=l[3]*Math.PI/180,a1=l[4]*Math.PI/180;
    let d='';const n=24;for(let i=0;i<=n;i++){const a=a0+(a1-a0)*i/n;d+=(i?'L':'M')+(cx+r*Math.cos(a))+','+(cy+r*Math.sin(a));}
    const lg=mk('g',{stroke:'#d42020','stroke-width':1.3,fill:'none'},g);
    
    mk('path',{d:d},lg);
    for(let i=0;i<=10;i++){const a=a0+(a1-a0)*i/10;mk('line',{x1:cx+r*Math.cos(a),y1:cy+r*Math.sin(a),x2:cx+(r+8)*Math.cos(a),y2:cy+(r+8)*Math.sin(a)},lg);}
  });
  bonds.forEach(b=>mk('line',{x1:X(atoms[b[0]][0]),y1:Yf(atoms[b[0]][1]),x2:X(atoms[b[1]][0]),y2:Yf(atoms[b[1]][1]),stroke:'#4a3aa0','stroke-width':2.2},g));
  chainBonds.forEach(b=>mk('line',{x1:X(chain[b[0]][0]),y1:Yf(chain[b[0]][1]),x2:X(chain[b[1]][0]),y2:Yf(chain[b[1]][1]),stroke:'#d99020','stroke-width':2.2},g));
  mk('line',{x1:X(hb[0]),y1:Yf(hb[1]),x2:X(hb[2]),y2:Yf(hb[3]),stroke:'#d8d040','stroke-width':1.2,'stroke-dasharray':'3 2'},g);
  tx(X((hb[0]+hb[2])/2),Yf((hb[1]+hb[3])/2)+2,'3.17',6,{'text-anchor':'middle',fill:'#3a8a3a'},g);
  const col={c:'#000',o:'#e01010',n:'#1a4aa0'};
  atoms.concat(chain).forEach(a=>{const c=mk('circle',{cx:X(a[0]),cy:Yf(a[1]),r:5.5,fill:col[a[2]||'c']},g);});
  labels.forEach(l=>{const t=tx(X(l[0]),Yf(l[1])+3,l[2],l[3]||7,{'text-anchor':'middle',fill:l[4]||'#222'},g);});
  const t=tx(X(780),Yf(title[1]),title[0],15,{'text-anchor':'middle'},g);
}
ligplot(0,'ligplot-berberine',
  [[855,250],[928,275,'o'],[930,335],[997,365],[997,430],[938,465],[873,435],[873,375],[803,345,'o'],[748,383],[815,468],[815,528,'n'],[938,528],[875,560],[745,562],[742,615],[808,655],[873,625],[935,662],[930,722],[867,750],[800,717],[983,762,'o'],[943,815],[868,805,'o']],
  [[0,1],[1,2],[2,3],[3,4],[4,5],[5,6],[6,7],[7,2],[7,8],[8,9],[6,10],[10,11],[5,12],[12,13],[13,11],[11,14],[14,15],[15,16],[16,17],[17,13],[17,18],[18,19],[19,20],[20,21],[21,16],[19,22],[22,23],[23,24],[24,20]],
  [[705,785,'n'],[718,852],[797,862],[818,925],[752,965],[762,1030],[690,1062,'n'],[835,1060],[838,1112,'o']],
  [[0,1],[1,2],[2,3],[3,4],[4,5],[5,6],[5,7],[7,8]],
  [[788,115,65,30,150],[1000,85,75,30,150],[615,265,70,-70,100],[1135,275,70,100,260],[340,385,75,-60,60],[610,470,70,-60,60],[1160,470,75,110,250],[495,715,75,-90,20],[1150,685,75,110,250],[1220,875,75,180,300],[975,980,70,200,340]],
  [[763,117,'His328(A)'],[1000,112,'Leu386(A)'],[603,265,'Glu335(A)'],[1130,272,'Val258(A)'],[340,387,'Gly331(A)'],[615,467,'Gly251(A)'],[1155,472,'Val250(A)'],[490,717,'Asn332(A)'],[1145,687,'Asp397(A)'],[1220,873,'Asn384(A)'],[985,970,'Ser383(A)'],[1005,585,'Berberine',12,'#2a4aa0'],[700,920,'Lys381(A)',10,'#3a8a3a']],
  ['TGFBR2-Berberine',1255],[730,790,855,805]);
ligplot(446,'ligplot-salidroside',
  [[968,380,'o'],[940,445],[858,460],[803,410,'o'],[832,525],[750,545],[698,490,'o'],[883,575,'o'],[960,565],[995,500],[1075,490,'o'],[1012,620,'o'],[958,672],[1005,735],[953,795],[875,785],[823,838],[855,900],[935,910],[985,858],[808,950,'o']],
  [[0,1],[1,2],[2,3],[2,4],[4,5],[5,6],[4,7],[7,8],[8,9],[9,1],[9,10],[8,11],[11,12],[12,13],[13,14],[14,15],[15,16],[16,17],[17,18],[18,19],[19,14],[17,20]],
  [[1150,425,'o'],[1195,485],[1280,470],[1297,397,'n'],[1340,520],[1320,578,'o']],
  [[0,1],[1,2],[2,3],[2,4],[4,5]],
  [[660,95,75,30,150],[240,215,75,-60,80],[510,260,70,-30,110],[835,240,75,30,150],[1060,260,75,40,170],[355,445,70,-60,60],[600,610,80,-70,70],[1170,650,75,110,260],[660,850,80,-70,70],[690,1100,90,-90,0],[990,1050,85,180,270]],
  [[648,115,'Gly253(A)'],[248,222,'Ala256(A)'],[490,268,'Lys277(A)'],[833,265,'Asp397(A)'],[1090,272,'Asn384(A)'],[340,450,'Lys252(A)'],[598,622,'Gly251(A)'],[1160,660,'Val258(A)'],[665,855,'Leu386(A)'],[690,1092,'Ala275(A)'],[975,1055,'Leu305(A)'],[820,705,'Salidroside',12,'#2a4aa0'],[1400,482,'Ser383(A)',10,'#3a8a3a']],
  ['TGFBR2-Salidroside',1240],[990,390,1130,420]);
</script>
</body></html>
